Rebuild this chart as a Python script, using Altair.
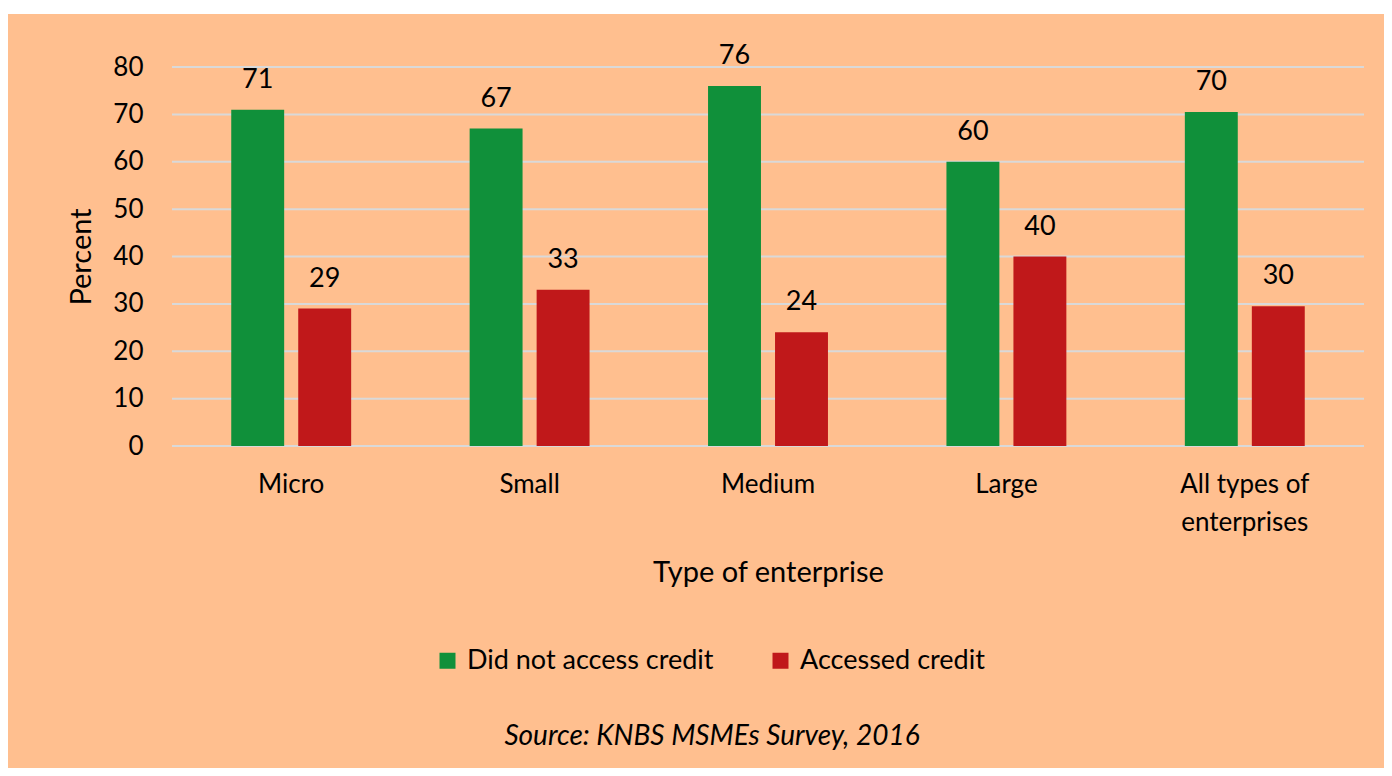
import altair as alt
import pandas as pd

CATEGORIES = ["Micro", "Small", "Medium", "Large", "All types of enterprises"]
SERIES = ["Did not access credit", "Accessed credit"]
NOT_ACCESSED = [71, 67, 76, 60, 70.5]
ACCESSED = [29, 33, 24, 40, 29.5]
NOT_LABELS = ["71", "67", "76", "60", "70"]
ACC_LABELS = ["29", "33", "24", "40", "30"]
Y_TICKS = [0, 10, 20, 30, 40, 50, 60, 70, 80]
SOURCE = "Source: KNBS MSMEs Survey, 2016"

GREEN = "#10903A"
RED = "#C0181A"
ORANGE = "#FFBF8F"
GRID = "#D9D9D9"
FONT = "Lato"

rows = []
for i, c in enumerate(CATEGORIES):
    rows.append({"cat": c, "series": SERIES[0], "value": NOT_ACCESSED[i], "label": NOT_LABELS[i]})
    rows.append({"cat": c, "series": SERIES[1], "value": ACCESSED[i], "label": ACC_LABELS[i]})
df = pd.DataFrame(rows)

W, H = 1192, 379

x_enc = alt.X(
    "cat:N",
    sort=CATEGORIES,
    scale=alt.Scale(paddingInner=0.497, paddingOuter=0.2485),
    axis=alt.Axis(
        title="Type of enterprise",
        labelAngle=0,
        labelFontSize=26,
        labelFont=FONT,
        labelColor="#000000",
        labelPadding=25,
        labelBaseline="top",
        labelLineHeight=38,
        labelLimit=0,
        labelExpr="datum.label == 'All types of enterprises' ? ['All types of', 'enterprises'] : datum.label",
        titleFontSize=29,
        titleFont=FONT,
        titleFontWeight="normal",
        titleColor="#000000",
        titlePadding=23,
        zindex=1,
    ),
)
xo_enc = alt.XOffset("series:N", sort=SERIES, scale=alt.Scale(paddingInner=0.21, paddingOuter=0))
y_scale = alt.Scale(domain=[0, 80], nice=False)

bg = alt.Chart(pd.DataFrame({"a": [0]})).mark_rect(color=ORANGE).encode(
    x=alt.value(-164), x2=alt.value(1212), y=alt.value(-53), y2=alt.value(701)
)

grid = alt.Chart(pd.DataFrame({"value": Y_TICKS})).mark_rule(color=GRID, strokeWidth=2).encode(
    y=alt.Y("value:Q", scale=y_scale),
    x=alt.value(0),
    x2=alt.value(W),
)

bars = alt.Chart(df).mark_bar().encode(
    x=x_enc,
    xOffset=xo_enc,
    y=alt.Y(
        "value:Q",
        scale=y_scale,
        axis=alt.Axis(
            title="Percent",
            values=Y_TICKS,
            labelFontSize=26,
            labelFont=FONT,
            labelColor="#000000",
            labelPadding=29,
            titleFontSize=29,
            titleFont=FONT,
            titleFontWeight="normal",
            titleColor="#000000",
            titlePadding=16,
            zindex=1,
        ),
    ),
    color=alt.Color(
        "series:N",
        sort=SERIES,
        scale=alt.Scale(domain=SERIES, range=[GREEN, RED]),
        legend=alt.Legend(
            title=None,
            orient="none",
            direction="horizontal",
            legendX=262,
            legendY=580,
            symbolType="square",
            symbolSize=256,
            symbolStrokeWidth=0,
            symbolOpacity=1,
            labelFontSize=27,
            labelFont=FONT,
            labelColor="#000000",
            labelOffset=6,
            labelLimit=0,
            columnPadding=53,
            zindex=1,
        ),
    ),
)

labels = alt.Chart(df).mark_text(
    fontSize=27, font=FONT, color="#000000", baseline="alphabetic", align="center", dy=-22
).encode(
    x=alt.X("cat:N", sort=CATEGORIES),
    xOffset=alt.XOffset("series:N", sort=SERIES),
    y=alt.Y("value:Q", scale=y_scale),
    text="label:N",
)

source = alt.Chart(pd.DataFrame({"t": [SOURCE]})).mark_text(
    fontSize=28, font=FONT, fontStyle="italic", color="#000000", align="center", baseline="middle"
).encode(x=alt.value(540), y=alt.value(670), text="t:N")

chart = alt.layer(bg, grid, bars, labels, source).properties(
    width=W,
    height=H,
    padding={"left": 0, "top": 6, "right": 0, "bottom": 0},
    background="white",
).configure_view(stroke=None).configure_axis(grid=False, domain=False, ticks=False)

chart.save("out.html", embed_options={"renderer": "svg", "actions": False})
